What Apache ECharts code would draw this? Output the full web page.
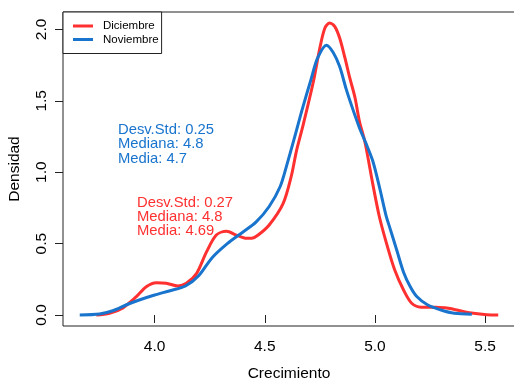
<!DOCTYPE html>
<html>
<head>
<meta charset="utf-8">
<script src="https://cdn.jsdelivr.net/npm/echarts@6/dist/echarts.min.js"></script>
<style>
  html, body { margin: 0; padding: 0; background: #fff; }
  #chart { width: 514px; height: 379px; }
</style>
</head>
<body>
<div id="chart"></div>
<script>
// density curves: [crecimiento, densidad]
var diciembre = [
    [3.735, 0], [3.795, 0.012], [3.856, 0.05], [3.917, 0.128], [3.962, 0.198],
    [4.008, 0.226], [4.053, 0.222], [4.106, 0.203], [4.144, 0.222], [4.19, 0.29],
    [4.235, 0.44], [4.28, 0.56], [4.326, 0.586], [4.371, 0.56], [4.417, 0.537],
    [4.44, 0.537], [4.47, 0.56], [4.52, 0.63], [4.583, 0.78], [4.62, 0.97],
    [4.644, 1.15], [4.674, 1.33], [4.72, 1.63], [4.75, 1.87], [4.773, 2.01],
    [4.795, 2.045], [4.818, 2.02], [4.84, 1.94], [4.864, 1.80], [4.886, 1.66],
    [4.91, 1.52], [4.93, 1.354], [4.955, 1.21], [4.99, 0.92], [5.02, 0.69],
    [5.053, 0.50], [5.09, 0.315], [5.13, 0.175], [5.167, 0.082], [5.21, 0.055],
    [5.265, 0.054], [5.326, 0.049], [5.386, 0.03], [5.447, 0.012], [5.508, 0.002],
    [5.56, 0]
];
var noviembre = [
    [3.66, 0], [3.75, 0.007], [3.81, 0.03], [3.87, 0.07], [3.93, 0.105],
    [4.0, 0.14], [4.07, 0.17], [4.14, 0.203], [4.2, 0.275], [4.26, 0.40],
    [4.33, 0.50], [4.40, 0.58], [4.46, 0.65], [4.52, 0.76], [4.57, 0.90],
    [4.6, 1.05], [4.64, 1.27], [4.67, 1.44], [4.71, 1.65], [4.74, 1.80],
    [4.78, 1.89], [4.81, 1.84], [4.84, 1.74], [4.87, 1.58], [4.9, 1.44],
    [4.93, 1.31], [4.96, 1.20], [4.99, 1.08], [5.02, 0.90], [5.05, 0.70],
    [5.07, 0.60], [5.1, 0.45], [5.13, 0.30], [5.16, 0.20], [5.19, 0.13],
    [5.24, 0.07], [5.3, 0.035], [5.36, 0.012], [5.44, 0.005]
];
var xTicks = [4.0, 4.5, 5.0, 5.5];
var yTicks = [0.0, 0.5, 1.0, 1.5, 2.0];
var notaNov = ['Desv.Std: 0.25', 'Mediana: 4.8', 'Media: 4.7'];
var notaDic = ['Desv.Std: 0.27', 'Mediana: 4.8', 'Media: 4.69'];

var ROJO = '#FF3030';
var AZUL = '#1874CD';
var FUENTE = '"Liberation Sans", Arial, sans-serif';

var chart = echarts.init(document.getElementById('chart'));

var option = {
    animation: false,
    textStyle: { fontFamily: FUENTE },
    grid: {
        left: 63, top: 12, width: 452, height: 314,
        outerBoundsMode: 'none',
        show: true, borderColor: '#222', borderWidth: 1
    },
    legend: {
        orient: 'vertical',
        left: 63, top: 12,
        padding: [8, 3, 8, 10],
        borderColor: '#222', borderWidth: 1,
        backgroundColor: '#fff',
        icon: 'rect',
        itemWidth: 20, itemHeight: 3, itemGap: 1.5,
        textStyle: { fontSize: 11.5, color: '#000', padding: [0, 0, 0, 5] },
        data: ['Diciembre', 'Noviembre']
    },
    xAxis: {
        type: 'value',
        min: 3.584, max: 5.636,
        name: 'Crecimiento',
        nameLocation: 'middle',
        nameGap: 40,
        nameTextStyle: { fontSize: 15.5, color: '#000' },
        splitLine: { show: false },
        axisLine: { show: false },
        axisTick: { show: true, length: 8, customValues: xTicks, lineStyle: { color: '#222' } },
        axisLabel: {
            customValues: xTicks, margin: 13, fontSize: 15.5, color: '#000',
            formatter: function (v) { return v.toFixed(1); }
        }
    },
    yAxis: {
        type: 'value',
        min: -0.077, max: 2.122,
        name: 'Densidad',
        nameLocation: 'middle',
        nameRotate: 90,
        nameGap: 40,
        nameTextStyle: { fontSize: 15.5, color: '#000' },
        splitLine: { show: false },
        axisLine: { show: false },
        axisTick: { show: true, length: 8, customValues: yTicks, lineStyle: { color: '#222' } },
        axisLabel: {
            customValues: yTicks, rotate: 90, margin: 13, fontSize: 15.5, color: '#000',
            formatter: function (v) { return v.toFixed(1); }
        }
    },
    graphic: [
        {
            type: 'text', left: 118, top: 122,
            style: { text: notaNov.join('\n'), fill: AZUL, font: '14.8px ' + FUENTE, lineHeight: 14.5 }
        },
        {
            type: 'text', left: 137, top: 195,
            style: { text: notaDic.join('\n'), fill: ROJO, font: '14.8px ' + FUENTE, lineHeight: 14 }
        }
    ],
    series: [
        {
            name: 'Diciembre', type: 'line', data: diciembre,
            symbol: 'none', smooth: 0.3,
            lineStyle: { color: ROJO, width: 3 }, itemStyle: { color: ROJO }
        },
        {
            name: 'Noviembre', type: 'line', data: noviembre,
            symbol: 'none', smooth: 0.3,
            lineStyle: { color: AZUL, width: 3 }, itemStyle: { color: AZUL }
        }
    ]
};

chart.setOption(option);
</script>
</body>
</html>
